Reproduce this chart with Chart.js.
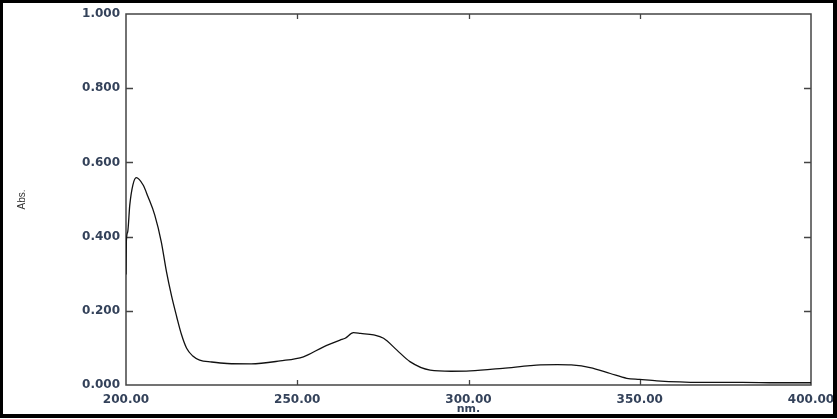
<!DOCTYPE html>
<html>
<head>
<meta charset="utf-8">
<script src="https://cdn.jsdelivr.net/npm/chart.js@4.4.1/dist/chart.umd.min.js"></script>
<style>
  html, body { margin: 0; padding: 0; background: #fff; }
  #wrap { position: relative; width: 837px; height: 419px; }
  #frame {
    position: absolute; left: 0; top: 0; width: 837px; height: 418px;
    box-sizing: border-box; border: 3px solid #000;
    border-right-width: 4px; border-bottom-width: 4px;
    pointer-events: none;
  }
</style>
</head>
<body>
<div id="wrap">
  <canvas id="spectrum" width="837" height="419"></canvas>
  <div id="frame"></div>
</div>
<script>
// spectrum (nm, Abs.)
const wavelengths = [200.0, 200.1, 200.5, 201.1, 202.0, 203.0, 205.0, 206.4, 208.4, 210.3,
  211.8, 213.3, 214.8, 216.2, 217.7, 219.5, 221.5, 225.0, 229.5, 236.5,
  245.0, 251.8, 257.7, 262.5, 264.0, 266.4, 268.5, 272.3, 275.2, 279.1,
  282.9, 288.8, 295.0, 300.5, 310.0, 318.0, 321.0, 326.0, 330.0, 335.5,
  341.4, 346.2, 350.0, 355.0, 367.6, 380.0, 390.0, 400.0];
const absorbance = [0.298, 0.386, 0.413, 0.485, 0.539, 0.559, 0.539, 0.508, 0.458, 0.386,
  0.306, 0.240, 0.184, 0.136, 0.099, 0.078, 0.067, 0.062, 0.058, 0.057,
  0.065, 0.076, 0.103, 0.121, 0.126, 0.141, 0.139, 0.135, 0.126, 0.094,
  0.063, 0.040, 0.037, 0.038, 0.045, 0.052, 0.054, 0.055, 0.054, 0.047,
  0.031, 0.018, 0.015, 0.011, 0.007, 0.007, 0.006, 0.006];
const xTicks = [200, 250, 300, 350, 400];
const yTicks = [0, 0.2, 0.4, 0.6, 0.8, 1.0];

const points = wavelengths.map((w, i) => ({ x: w, y: absorbance[i] }));
const labelColor = '#34425a';

// plot box and inward tick marks
const framePlugin = {
    id: 'framePlugin',
    beforeDatasetsDraw(chart) {
        const ctx = chart.ctx;
        const a = chart.chartArea;
        const xs = chart.scales.x;
        const ys = chart.scales.y;
        ctx.save();
        ctx.strokeStyle = '#444';
        ctx.lineWidth = 1.5;
        ctx.strokeRect(a.left, a.top, a.right - a.left, a.bottom - a.top);
        ctx.lineWidth = 1.3;
        ctx.beginPath();
        xTicks.slice(1, -1).forEach(v => {
            const px = Math.round(xs.getPixelForValue(v)) + 0.5;
            ctx.moveTo(px, a.bottom); ctx.lineTo(px, a.bottom - 5);
            ctx.moveTo(px, a.top); ctx.lineTo(px, a.top + 5);
        });
        yTicks.slice(1, -1).forEach(v => {
            const py = Math.round(ys.getPixelForValue(v)) + 0.5;
            ctx.moveTo(a.left, py); ctx.lineTo(a.left + 7, py);
            ctx.moveTo(a.right, py); ctx.lineTo(a.right - 7, py);
        });
        ctx.stroke();
        ctx.restore();
    }
};

new Chart(document.getElementById('spectrum'), {
    type: 'line',
    data: {
        datasets: [{
            data: points,
            borderColor: '#111',
            borderWidth: 1.3,
            pointRadius: 0,
            fill: false,
            cubicInterpolationMode: 'monotone'
        }]
    },
    options: {
        responsive: false,
        animation: false,
        events: [],
        layout: { padding: { left: 0, right: 26, top: 14, bottom: 0 } },
        plugins: { legend: { display: false }, tooltip: { enabled: false } },
        scales: {
            x: {
                type: 'linear',
                min: 200,
                max: 400,
                afterFit: s => { s.height = 34; s.paddingLeft = 0; s.paddingRight = 0; },
                afterBuildTicks: s => { s.ticks = xTicks.map(v => ({ value: v })); },
                grid: { display: false, drawTicks: false },
                border: { display: false },
                ticks: {
                    padding: 8,
                    maxRotation: 0,
                    color: labelColor,
                    font: { family: 'DejaVu Sans', size: 12, weight: 'bold' },
                    callback: v => v.toFixed(2)
                },
                title: {
                    display: true,
                    text: 'nm.',
                    color: labelColor,
                    padding: { top: 0, bottom: 3 },
                    font: { family: 'DejaVu Sans', size: 11, weight: 'bold' }
                }
            },
            y: {
                min: 0,
                max: 1,
                afterFit: s => { s.width = 126; s.paddingTop = 0; s.paddingBottom = 0; },
                afterBuildTicks: s => { s.ticks = yTicks.map(v => ({ value: v })); },
                grid: { display: false, drawTicks: false },
                border: { display: false },
                ticks: {
                    padding: 6,
                    color: labelColor,
                    font: { family: 'DejaVu Sans', size: 12, weight: 'bold' },
                    callback: v => v.toFixed(3)
                },
                title: {
                    display: true,
                    text: 'Abs.',
                    color: '#333',
                    padding: { top: 16, bottom: 0 },
                    font: { family: 'Liberation Sans', size: 10 }
                }
            }
        }
    },
    plugins: [framePlugin]
});
</script>
</body>
</html>
